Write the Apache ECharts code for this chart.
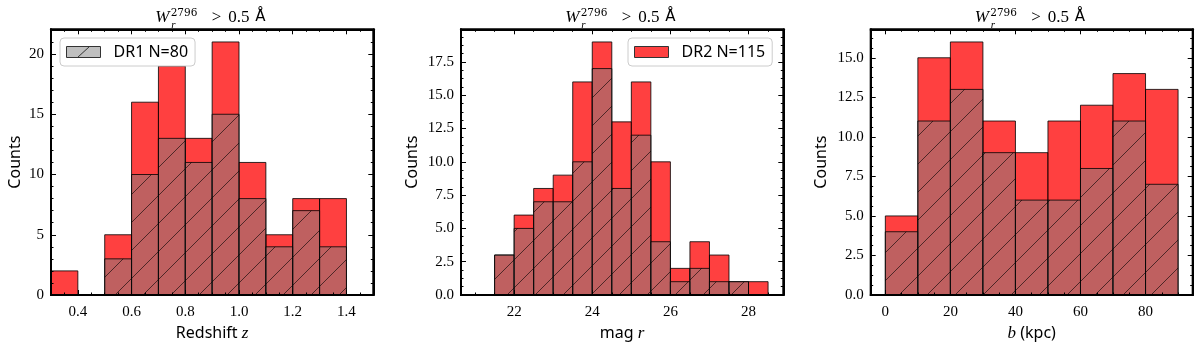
<!DOCTYPE html>
<html>
<head>
<meta charset="utf-8">
<script src="https://cdn.jsdelivr.net/npm/echarts@6/dist/echarts.min.js"></script>
<style>
  html, body { margin: 0; padding: 0; background: #fff; }
  #chart { width: 1200px; height: 347px; }
</style>
</head>
<body>
<div id="chart"></div>
<script>
// bin edges and counts
const zBins = [0.3, 0.4, 0.5, 0.6, 0.7, 0.8, 0.9, 1.0, 1.1, 1.2, 1.3, 1.4]
const zDR2 = [2, 0, 5, 16, 19, 13, 21, 11, 5, 8, 8]
const zDR1 = [0, 0, 3, 10, 13, 11, 15, 8, 4, 7, 4]

const magBins = [21.5, 22, 22.5, 23, 23.5, 24, 24.5, 25, 25.5, 26, 26.5, 27, 27.5, 28, 28.5]
const magDR2 = [3, 6, 8, 9, 16, 19, 13, 16, 10, 2, 4, 3, 1, 1]
const magDR1 = [3, 5, 7, 7, 10, 17, 8, 12, 4, 1, 2, 1, 1, 0]

const bBins = [0, 10, 20, 30, 40, 50, 60, 70, 80, 90]
const bDR2 = [5, 15, 16, 11, 9, 11, 12, 14, 13]
const bDR1 = [4, 11, 13, 9, 6, 6, 8, 11, 7]

// tick labels
const zTicks = [0.4, 0.6, 0.8, 1.0, 1.2, 1.4]
const magTicks = [22, 24, 26, 28]
const bTicks = [0, 20, 40, 60, 80]
const zCountTicks = [0, 5, 10, 15, 20]
const magCountTicks = [0, 2.5, 5, 7.5, 10, 12.5, 15, 17.5]
const bCountTicks = [0, 2.5, 5, 7.5, 10, 12.5, 15]

const DR1_NAME = 'DR1 N=80'
const DR2_NAME = 'DR2 N=115'

const SANS = 'Noto Sans'
const SERIF = 'Liberation Serif'

const panels = [
  { bins: zBins, dr2: zDR2, dr1: zDR1, xMin: 0.3, xMax: 1.5, yMax: 22.05,
    xTicks: zTicks, xStep: 0.05, yTicks: zCountTicks, yStep: 1,
    xFmt: v => v.toFixed(1), yFmt: v => String(v),
    xName: '{s|Redshift }{i|z}', yGap: 28, left: 51, width: 322.3 },
  { bins: magBins, dr2: magDR2, dr1: magDR1, xMin: 20.64, xMax: 28.89, yMax: 19.95,
    xTicks: magTicks, xStep: 0.5, yTicks: magCountTicks, yStep: 0.625,
    xFmt: v => String(v), yFmt: v => v.toFixed(1),
    xName: '{s|mag }{i|r}', yGap: 41, left: 461, width: 322.3 },
  { bins: bBins, dr2: bDR2, dr1: bDR1, xMin: -4.5, xMax: 94.5, yMax: 16.8,
    xTicks: bTicks, xStep: 5, yTicks: bCountTicks, yStep: 0.625,
    xFmt: v => String(v), yFmt: v => v.toFixed(1),
    xName: '{i|b}{s| (kpc)}', yGap: 41, left: 870.7, width: 322 }
]

// minor tick positions between min and max
function minorTicks (min, max, step) {
  const out = []
  for (let k = Math.ceil(min / step - 1e-9); k * step <= max + 1e-9; k++) {
    out.push(+(k * step).toFixed(6))
  }
  return out
}

const labelStyle = { fontFamily: SERIF, fontSize: 15, color: '#000' }
const tickLine = { color: '#000', width: 1 }

function axesFor (p, i) {
  const xMinor = minorTicks(p.xMin, p.xMax, p.xStep)
  const yMinor = minorTicks(0, p.yMax, p.yStep)
  const bx = { type: 'value', gridIndex: i, min: p.xMin, max: p.xMax, z: 5, splitLine: { show: false } }
  const by = { type: 'value', gridIndex: i, min: 0, max: p.yMax, z: 5, splitLine: { show: false } }
  const frame = { show: true, onZero: false, lineStyle: { color: '#000', width: 2 } }
  const noLine = { show: false, onZero: false }
  const xs = [
    Object.assign({}, bx, {
      position: 'bottom', axisLine: frame,
      axisTick: { inside: true, length: 5, customValues: p.xTicks, lineStyle: tickLine },
      axisLabel: Object.assign({ customValues: p.xTicks, formatter: p.xFmt, margin: 10 }, labelStyle),
      name: p.xName, nameLocation: 'middle', nameGap: 30,
      nameTextStyle: { rich: {
        s: { fontFamily: SANS, fontSize: 16, color: '#000' },
        i: { fontFamily: SERIF, fontStyle: 'italic', fontSize: 17, color: '#000' }
      } }
    }),
    Object.assign({}, bx, { position: 'bottom', axisLine: noLine, axisLabel: { show: false },
      axisTick: { inside: true, length: 2.5, customValues: xMinor, lineStyle: tickLine } }),
    Object.assign({}, bx, { position: 'top', axisLine: frame, axisLabel: { show: false },
      axisTick: { inside: true, length: 5, customValues: p.xTicks, lineStyle: tickLine } }),
    Object.assign({}, bx, { position: 'top', axisLine: noLine, axisLabel: { show: false },
      axisTick: { inside: true, length: 2.5, customValues: xMinor, lineStyle: tickLine } })
  ]
  const ys = [
    Object.assign({}, by, {
      position: 'left', axisLine: frame,
      axisTick: { inside: true, length: 5, customValues: p.yTicks, lineStyle: tickLine },
      axisLabel: Object.assign({ customValues: p.yTicks, formatter: p.yFmt, margin: 7 }, labelStyle),
      name: 'Counts', nameLocation: 'middle', nameGap: p.yGap,
      nameTextStyle: { fontFamily: SANS, fontSize: 16, color: '#000' }
    }),
    Object.assign({}, by, { position: 'left', axisLine: noLine, axisLabel: { show: false },
      axisTick: { inside: true, length: 2.5, customValues: yMinor, lineStyle: tickLine } }),
    Object.assign({}, by, { position: 'right', axisLine: frame, axisLabel: { show: false },
      axisTick: { inside: true, length: 5, customValues: p.yTicks, lineStyle: tickLine } }),
    Object.assign({}, by, { position: 'right', axisLine: noLine, axisLabel: { show: false },
      axisTick: { inside: true, length: 2.5, customValues: yMinor, lineStyle: tickLine } })
  ]
  return { xs, ys }
}

// histogram bar drawn from its bin edges, optional "/" hatch
function barRenderer (hatch) {
  return function (params, api) {
    const a = api.coord([api.value(0), 0])
    const b = api.coord([api.value(1), api.value(2)])
    const rx = a[0], ry = b[1], rw = b[0] - a[0], rh = a[1] - b[1]
    const children = [{
      type: 'rect',
      shape: { x: rx, y: ry, width: rw, height: rh },
      style: { fill: api.visual('color'), stroke: 'rgba(0,0,0,0.8)', lineWidth: 1 }
    }]
    if (hatch && rh > 0) {
      const S = 28, off = 18
      const start = Math.ceil((rx + ry - off) / S) * S + off
      for (let c = start; c <= rx + rw + ry + rh; c += S) {
        const xa = Math.max(rx, c - (ry + rh))
        const xb = Math.min(rx + rw, c - ry)
        if (xb > xa) {
          children.push({
            type: 'line',
            shape: { x1: xa, y1: c - xa, x2: xb, y2: c - xb },
            style: { stroke: 'rgba(0,0,0,0.6)', lineWidth: 1 }
          })
        }
      }
    }
    return { type: 'group', children }
  }
}

function binData (bins, counts) {
  return counts.map((c, k) => [bins[k], bins[k + 1], c])
}

// title  W_r^2796 > 0.5 Å  (x offsets from the panel centre)
function titleGroup (cx) {
  const txt = (x, y, text, font) => ({
    type: 'text', x, y,
    style: { text, font, fill: '#000', verticalAlign: 'middle' }
  })
  return {
    type: 'group', x: cx, y: 1.5, silent: true,
    children: [
      txt(-57, 16.5, 'W', 'italic 17px "Liberation Serif"'),
      txt(-41.5, 12, '2796', '10.5px "DejaVu Serif"'),
      txt(-41, 24, 'r', 'italic 11px "Liberation Serif"'),
      txt(-0.5, 16.5, '>', '17px "Liberation Serif"'),
      txt(16, 16.5, '0.5', '17px "Liberation Serif"'),
      txt(43, 16, 'Å', '15px "DejaVu Sans"')
    ]
  }
}

const grids = []
let xAxes = []
let yAxes = []
const series = []
const graphics = []
panels.forEach((p, i) => {
  grids.push({ left: p.left, top: 29.3, width: p.width, height: 272.4,
    show: true, borderColor: '#000', borderWidth: 2, backgroundColor: '#fff' })
  const ax = axesFor(p, i)
  xAxes = xAxes.concat(ax.xs)
  yAxes = yAxes.concat(ax.ys)
  series.push({
    type: 'custom', name: DR2_NAME, xAxisIndex: 4 * i, yAxisIndex: 4 * i,
    itemStyle: { color: 'rgba(255,0,0,0.75)' },
    encode: { x: [0, 1], y: 2 },
    renderItem: barRenderer(false),
    data: binData(p.bins, p.dr2)
  })
  series.push({
    type: 'custom', name: DR1_NAME, xAxisIndex: 4 * i, yAxisIndex: 4 * i,
    itemStyle: { color: 'rgba(128,128,128,0.5)' },
    encode: { x: [0, 1], y: 2 },
    renderItem: barRenderer(true),
    data: binData(p.bins, p.dr1)
  })
  graphics.push(titleGroup(p.left + p.width / 2))
})

const legendBase = {
  orient: 'horizontal', itemWidth: 42, itemHeight: 11,
  padding: [6, 7, 6, 6], backgroundColor: '#fff',
  borderColor: '#cccccc', borderWidth: 1, borderRadius: 4,
  textStyle: { fontFamily: SANS, fontSize: 16, color: '#000' }
}

const option = {
  animation: false,
  textStyle: { fontFamily: SERIF },
  grid: grids,
  xAxis: xAxes,
  yAxis: yAxes,
  series,
  graphic: graphics,
  legend: [
    Object.assign({}, legendBase, {
      left: 60, top: 38,
      data: [{ name: DR1_NAME, icon: 'path://M0,0H34V11H0ZM11,11L23,0M42,0',
        itemStyle: { color: 'rgba(128,128,128,0.5)', borderColor: '#333', borderWidth: 1 } }]
    }),
    Object.assign({}, legendBase, {
      left: 628, top: 38,
      data: [{ name: DR2_NAME, icon: 'path://M0,0H34V11H0ZM42,0',
        itemStyle: { color: 'rgba(255,0,0,0.75)', borderColor: '#333', borderWidth: 1 } }]
    })
  ]
}

const chart = echarts.init(document.getElementById('chart'))
chart.setOption(option)
</script>
</body>
</html>
